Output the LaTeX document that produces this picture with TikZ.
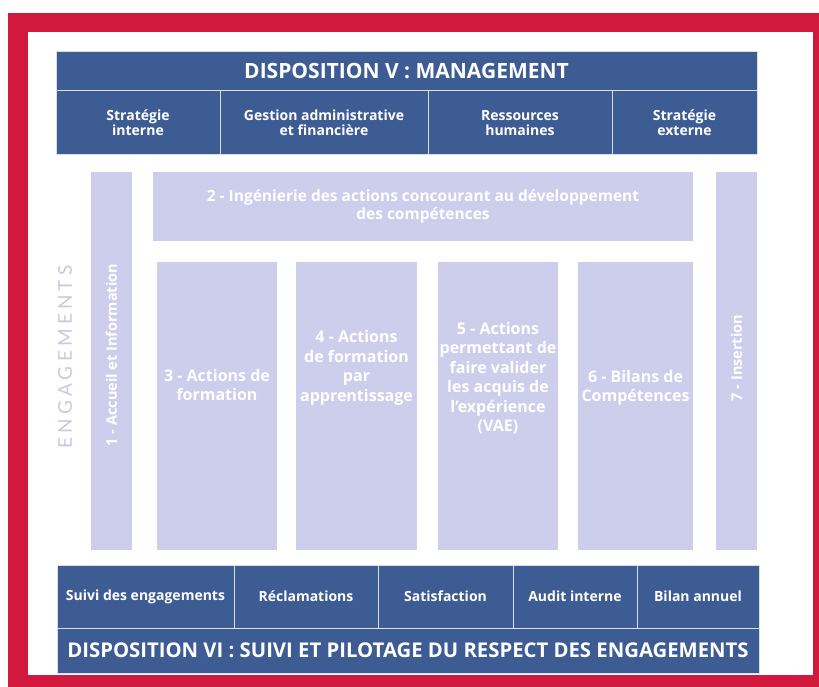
\documentclass[tikz,border=0pt]{standalone}
\usepackage{fontspec}
\setmainfont{Open Sans}
\newfontfamily\spacedfont[LetterSpace=22]{Lato}
\usetikzlibrary{positioning}
\definecolor{frame}{HTML}{D3183E}
\definecolor{navy}{HTML}{3E5C94}
\definecolor{lilac}{HTML}{CDCEEC}
\definecolor{ghost}{HTML}{C8CADF}

\begin{document}
\begin{tikzpicture}[x=1pt, y=-1pt,
    cell/.style={draw=white!80!navy, line width=1pt, fill=navy, text=white, align=center, inner sep=0pt,
        font=\bfseries\fontsize{14}{15}\selectfont},
    title/.style={cell, font=\bfseries\fontsize{21}{24}\selectfont},
    pillar/.style={fill=lilac, inner sep=0pt},
    pillartext/.style={text=white, align=center, font=\bfseries\fontsize{16}{19.5}\selectfont}]
    \useasboundingbox (0,0) rectangle (819,687);

    % red frame
    \fill[frame] (8,13) rectangle (819,687);
    \fill[white] (28,32) rectangle (813,675);

    % disposition V
    \node[title, minimum width=701pt, minimum height=39pt] (dv) at (406.5,71.5) {DISPOSITION V : MANAGEMENT};
    \node[cell, minimum width=164pt, minimum height=64pt] (si) at (138,123) {Stratégie\\interne};
    \node[cell, minimum width=208pt, minimum height=64pt] (ga) at (324,123) {Gestion administrative\\et financière};
    \node[cell, minimum width=184pt, minimum height=64pt] (rh) at (520,123) {Ressources\\humaines};
    \node[cell, minimum width=145pt, minimum height=64pt] (se) at (684.5,123) {Stratégie\\externe};

    % engagements
    \node[text=ghost, rotate=90, font=\spacedfont\fontsize{19}{22}\selectfont] (eng) at (65,357) {ENGAGEMENTS};
    \node[pillar, minimum width=41pt, minimum height=378pt] (p1) at (111.5,361) {};
    \node[pillar, minimum width=540pt, minimum height=69pt] (p2) at (423,206.5) {};
    \node[pillar, minimum width=41pt, minimum height=378pt] (p7) at (736.5,361) {};
    \node[pillar, minimum width=120pt, minimum height=288pt] (p3) at (217,406) {};
    \node[pillar, minimum width=121pt, minimum height=288pt] (p4) at (356.5,406) {};
    \node[pillar, minimum width=120pt, minimum height=288pt] (p5) at (498,406) {};
    \node[pillar, minimum width=115pt, minimum height=288pt] (p6) at (635.5,406) {};

    \node[pillartext, rotate=90, font=\bfseries\fontsize{14.5}{16}\selectfont] (t1) at ([yshift=6pt]p1.center) {1 - Accueil et Information};
    \node[pillartext, font=\bfseries\fontsize{15.5}{18}\selectfont] (t2) at (p2.center) {2 - Ingénierie des actions concourant au développement\\des compétences};
    \node[pillartext, rotate=90, font=\bfseries\fontsize{14.5}{16}\selectfont] (t7) at ([yshift=3pt]p7.center) {7 - Insertion};
    \node[pillartext] (t3) at ([yshift=21pt]p3.center) {3 - Actions de\\formation};
    \node[pillartext] (t4) at ([yshift=38pt]p4.center) {4 - Actions\\de formation\\par\\apprentissage};
    \node[pillartext] (t5) at ([yshift=28pt]p5.center) {5 - Actions\\permettant de\\faire valider\\les acquis de\\l'expérience\\(VAE)};
    \node[pillartext] (t6) at ([yshift=18pt]p6.center) {6 - Bilans de\\Compétences};

    % disposition VI
    \node[cell, minimum width=177pt, minimum height=63pt] (su) at (145.5,596.5) {Suivi des engagements};
    \node[cell, minimum width=144pt, minimum height=63pt] (re) at (306,596.5) {Réclamations};
    \node[cell, minimum width=135pt, minimum height=63pt] (sa) at (445.5,596.5) {Satisfaction};
    \node[cell, minimum width=124pt, minimum height=63pt] (ai) at (575,596.5) {Audit interne};
    \node[cell, minimum width=122pt, minimum height=63pt] (ba) at (698,596.5) {Bilan annuel};
    \node[title, minimum width=702pt, minimum height=45pt, font=\bfseries\fontsize{20.3}{24}\selectfont] (dvi) at (408,650.5) {DISPOSITION VI : SUIVI ET PILOTAGE DU RESPECT DES ENGAGEMENTS};
\end{tikzpicture}
\end{document}
